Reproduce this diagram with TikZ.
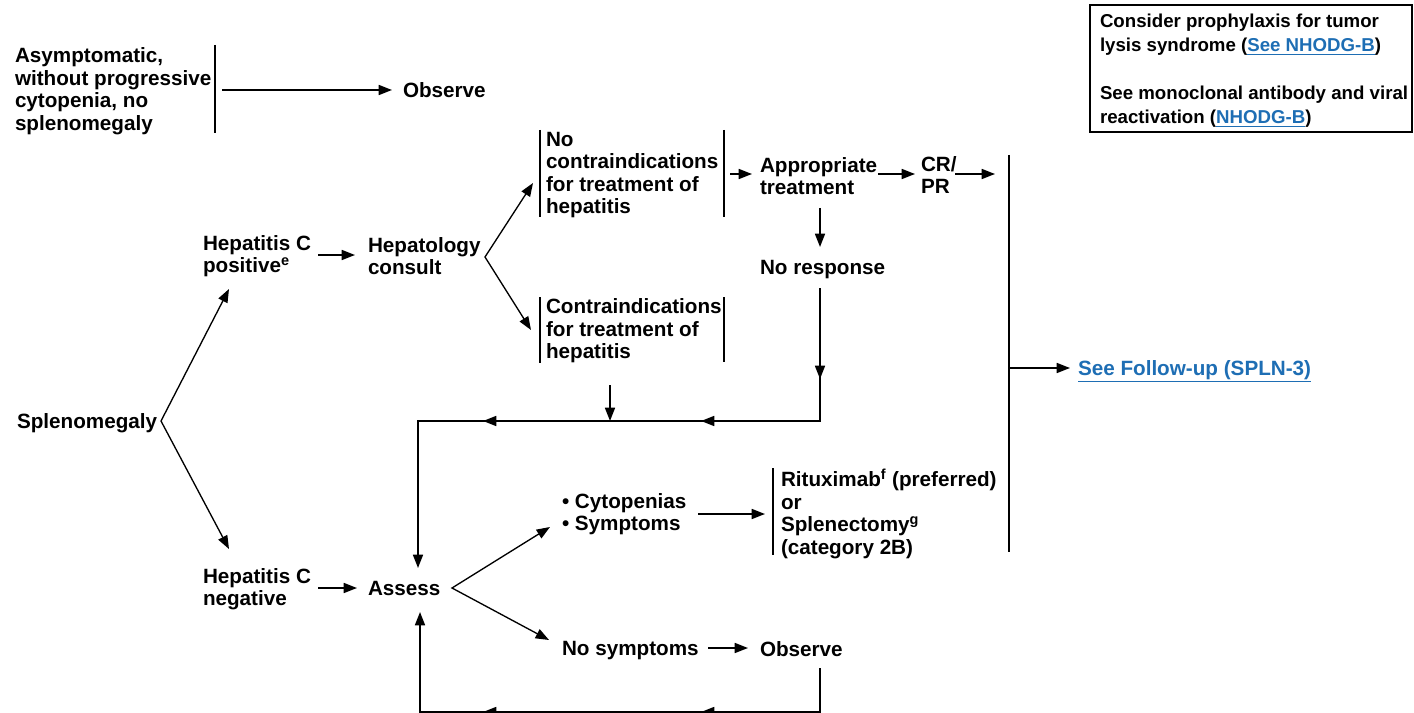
\documentclass[tikz,border=0pt]{standalone}
\usepackage{fontspec}
\setmainfont{Liberation Sans}
\usetikzlibrary{arrows.meta,calc}
\definecolor{linkblue}{RGB}{30,110,180}
\newcommand{\lnk}[1]{\textcolor{linkblue}{\underline{#1}}}

\begin{document}
\begin{tikzpicture}[x=0.75pt,y=-0.75pt,
  every node/.style={inner sep=0pt, outer sep=0pt, anchor=west, align=left,
    font=\bfseries\fontsize{15.5}{16.9}\selectfont},
  ln/.style={line width=1.25pt},
  arr/.style={ln, -{Triangle[length=10pt,width=7.5pt]}},
  fork/.style={line width=1pt, line join=miter, {Triangle[length=10pt,width=7.5pt]}-{Triangle[length=10pt,width=7.5pt]}},
  bar/.style={line width=1.25pt},
  notefont/.style={font=\bfseries\fontsize{14}{18}\selectfont}]

\useasboundingbox (0,0) rectangle (1414,713);

% ---- text blocks ----
\node (asym) at (15,91) {Asymptomatic,\\without progressive\\cytopenia, no\\splenomegaly};
\node (obs1) at (403,90) {Observe};
\node (hcp) at (203,256) {Hepatitis C\\positive\textsuperscript{e}};
\node (hep) at (368,256) {Hepatology\\consult};
\node (nocontra) at (546,175) {No\\contraindications\\for treatment of\\hepatitis};
\node (approp) at (760,176) {Appropriate\\treatment};
\node (crpr) at (921,175) {CR/\\PR};
\node (noresp) at (760,270) {No response};
\node (contra) at (546,331) {Contraindications\\for treatment of\\hepatitis};
\node (splen) at (17,423) {Splenomegaly};
\node (hcn) at (203,589) {Hepatitis C\\negative};
\node (assess) at (368,588) {Assess};
\node (cyto) at (562,514) {• Cytopenias\\• Symptoms};
\node (ritux) at (781,514) {Rituximab\textsuperscript{f} (preferred)\\or\\Splenectomy\textsuperscript{g}\\(category 2B)};
\node (nosym) at (562,651) {No symptoms};
\node (obs2) at (760,649) {Observe};
\node (follow) at (1078,371) {\lnk{See Follow-up (SPLN-3)}};

% ---- boxed note ----
\node[notefont] (note) at (1100,71) {Consider prophylaxis for tumor\\lysis syndrome (\lnk{See NHODG-B})\\[18pt]See monoclonal antibody and viral\\reactivation (\lnk{NHODG-B})};
\draw[ln] (1090,5) rectangle (1412,132);

% ---- bracket bars ----
\draw[bar] (215,45) -- (215,133);
\draw[bar] (540,130) -- (540,217);
\draw[bar] (724,130) -- (724,217);
\draw[bar] (540,297) -- (540,363);
\draw[bar] (724,297) -- (724,362);
\draw[bar] (773,468) -- (773,555);
\draw[bar] (1009,155) -- (1009,552);

\coordinate (asymR) at (215,90);
\coordinate (ncR) at (724,174);
\coordinate (fu) at (1009,368);

% ---- top row ----
\draw[arr] ($(asymR)+(7,0)$) -- ($(obs1.west)+(-11,0)$);
\draw[arr] ($(ncR)+(6,0)$) -- ($(approp.west)+(-8,-2)$);
\draw[arr] ($(approp.west)+(118,-2)$) -- ($(crpr.west)+(-6,-1)$);
\draw[arr] ($(crpr.west)+(34,-1)$) -- ($(crpr.west)+(74,-1)$);
\draw[arr] (fu) -- ($(follow.west)+(-8,-3)$);
\draw[arr] ($(approp.west)+(60,32)$) -- ($(noresp.west)+(60,-23)$);

% ---- hepatitis C positive branch ----
\draw[arr] ($(hcp.west)+(115,-1)$) -- ($(hep.west)+(-13,-1)$);
\coordinate (hepv) at ($(hep.west)+(117,1)$);
\draw[fork] ($(nocontra.west)+(-13,8)$) -- (hepv) -- ($(contra.west)+(-15,-1)$);

% ---- splenomegaly fork ----
\coordinate (splv) at ($(splen.west)+(144,-2)$);
\draw[fork] ($(hcp.west)+(26,33)$) -- (splv) -- ($(hcn.west)+(26,-40)$);

% ---- return to assess from above ----
\coordinate (nrA) at (820,379);
\coordinate (c1) at (820,421);
\coordinate (m1) at (701,421);
\coordinate (m2) at (483,421);
\coordinate (c2) at (418,421);
\coordinate (ctip) at (610,421);
\draw[arr] ($(noresp.west)+(60,18)$) -- (c1) -- (c2) -- ($(assess.west)+(50,-20)$);
\draw[arr] ($(noresp.west)+(60,18)$) -- (nrA);
\draw[arr] (c1) -- (m1);
\draw[arr] (m1) -- (m2);
\draw[arr] ($(contra.west)+(64,54)$) -- (ctip);

% ---- hepatitis C negative branch ----
\draw[arr] ($(hcn.west)+(115,-1)$) -- ($(assess.west)+(-11,0)$);
\coordinate (asv) at ($(assess.west)+(84,0)$);
\draw[fork] ($(cyto.west)+(-12,13)$) -- (asv) -- ($(nosym.west)+(-13,-11)$);
\draw[arr] ($(cyto.west)+(136,0)$) -- ($(ritux.west)+(-16,0)$);
\draw[arr] ($(nosym.west)+(146,-3)$) -- ($(obs2.west)+(-12,-1)$);

% ---- return to assess from below ----
\coordinate (b1) at (820,712);
\coordinate (bm1) at (701,712);
\coordinate (bm2) at (483,712);
\coordinate (b2) at (420,712);
\draw[arr] ($(obs2.west)+(60,19)$) -- (b1) -- (b2) -- ($(assess.west)+(52,24)$);
\draw[arr] (b1) -- (bm1);
\draw[arr] (bm1) -- (bm2);

\end{tikzpicture}
\end{document}
